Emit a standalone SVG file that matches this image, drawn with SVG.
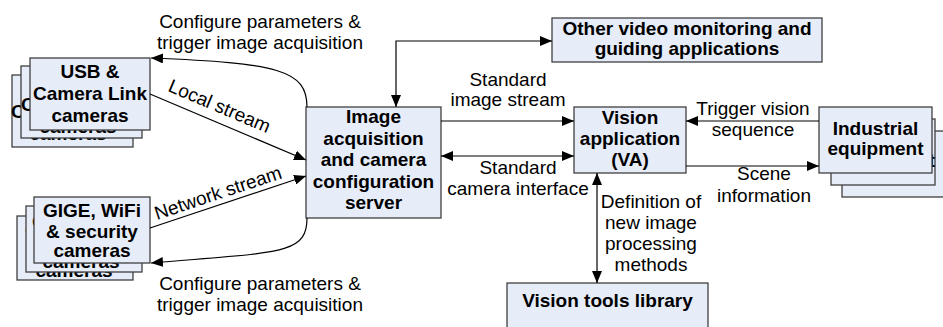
<svg xmlns="http://www.w3.org/2000/svg" width="943" height="327" viewBox="0 0 943 327">
<style>
text{font-family:"Liberation Sans",Arial,sans-serif;font-size:19px;fill:#000}
.b{font-weight:bold;text-anchor:middle}
.t{text-anchor:middle}
.box{fill:#e6ecf8;stroke:#404040;stroke-width:1.3}
.ln{fill:none;stroke:#000;stroke-width:1.2}
</style>
<defs>
<marker id="ah" markerUnits="userSpaceOnUse" markerWidth="13" markerHeight="10" refX="12" refY="5" orient="auto-start-reverse">
<path d="M0,0 L12,5 L0,10 z" fill="#000"/>
</marker>
</defs>

<g id="usb-cameras">
<rect class="box" x="12" y="75" width="121" height="72"/>
<text class="b" x="68" y="96">USB &amp;</text>
<text class="b" x="68" y="118">Camera Link</text>
<text class="b" x="68" y="140">cameras</text>
<rect class="box" x="21" y="66" width="121" height="72"/>
<text class="b" x="78" y="89">USB &amp;</text>
<text class="b" x="78" y="111">Camera Link</text>
<text class="b" x="78" y="133">cameras</text>
<rect class="box" x="30" y="58" width="120" height="72"/>
<text class="b" x="90" y="78">USB &amp;</text>
<text class="b" x="90" y="100">Camera Link</text>
<text class="b" x="90" y="122">cameras</text>
</g>

<g id="gige-cameras">
<rect class="box" x="17" y="216" width="116" height="64"/>
<text class="b" x="74" y="237">GIGE, WiFi</text>
<text class="b" x="74" y="258">&amp; security</text>
<text class="b" x="74" y="277">cameras</text>
<rect class="box" x="26" y="206" width="116" height="66"/>
<text class="b" x="81" y="228">GIGE, WiFi</text>
<text class="b" x="81" y="249">&amp; security</text>
<text class="b" x="81" y="268">cameras</text>
<rect class="box" x="34" y="197" width="116" height="66"/>
<text class="b" x="92" y="217">GIGE, WiFi</text>
<text class="b" x="92" y="238">&amp; security</text>
<text class="b" x="92" y="257">cameras</text>
</g>

<g id="server">
<rect class="box" x="306" y="107" width="135" height="111"/>
<text class="b" x="373.5" y="123">Image</text>
<text class="b" x="373.5" y="144.5">acquisition</text>
<text class="b" x="373.5" y="166">and camera</text>
<text class="b" x="373.5" y="187.5">configuration</text>
<text class="b" x="373.5" y="209">server</text>
</g>

<g id="other-apps">
<rect class="box" x="552" y="18" width="270" height="44"/>
<text class="b" x="687" y="35">Other video monitoring and</text>
<text class="b" x="687" y="55">guiding applications</text>
</g>

<g id="vision-app">
<rect class="box" x="574" y="107" width="112" height="66"/>
<text class="b" x="630" y="124">Vision</text>
<text class="b" x="630" y="145">application</text>
<text class="b" x="630" y="166">(VA)</text>
</g>

<g id="vision-tools">
<rect class="box" x="507" y="283" width="201" height="50"/>
<text class="b" x="607.5" y="307">Vision tools library</text>
</g>

<g id="industrial">
<rect class="box" x="842" y="131" width="104" height="66"/>
<rect class="box" x="831" y="119" width="104" height="66"/>
<text class="b" x="887" y="147">Industrial</text>
<text class="b" x="887" y="167">equipment</text>
<rect class="box" x="819" y="107" width="113" height="66"/>
<text class="b" x="875.5" y="135">Industrial</text>
<text class="b" x="875.5" y="155">equipment</text>
</g>

<g id="connectors">
<path class="ln" d="M307,107 C307,70 278,63 151,58" marker-end="url(#ah)"/>
<path class="ln" d="M307,218 C307,255 280,252 151,263" marker-end="url(#ah)"/>
<path class="ln" d="M150,94 L306,160" marker-end="url(#ah)"/>
<path class="ln" d="M150,228 L306,176" marker-end="url(#ah)"/>
<path class="ln" d="M396,107 L396,41 L552,41" marker-start="url(#ah)" marker-end="url(#ah)"/>
<path class="ln" d="M441,121 L574,121" marker-end="url(#ah)"/>
<path class="ln" d="M441,156 L574,156" marker-start="url(#ah)" marker-end="url(#ah)"/>
<path class="ln" d="M597,173 L597,283" marker-start="url(#ah)" marker-end="url(#ah)"/>
<path class="ln" d="M819,121 L686,121" marker-end="url(#ah)"/>
<path class="ln" d="M686,166 L819,166" marker-end="url(#ah)"/>
</g>

<g id="labels">
<text class="t" x="260" y="28">Configure parameters &amp;</text>
<text class="t" x="260" y="49">trigger image acquisition</text>
<text class="t" x="260" y="290">Configure parameters &amp;</text>
<text class="t" x="260" y="311">trigger image acquisition</text>
<text class="t" x="217" y="112" transform="rotate(23 217 112)">Local stream</text>
<text class="t" x="220" y="199" transform="rotate(-18.4 220 199)">Network stream</text>
<text class="t" x="508" y="86">Standard</text>
<text class="t" x="508" y="106">image stream</text>
<text class="t" x="518" y="174">Standard</text>
<text class="t" x="518" y="195">camera interface</text>
<text class="t" x="651" y="208">Definition of</text>
<text class="t" x="651" y="229">new image</text>
<text class="t" x="651" y="250">processing</text>
<text class="t" x="651" y="271">methods</text>
<text class="t" x="753" y="115">Trigger vision</text>
<text class="t" x="753" y="136">sequence</text>
<text class="t" x="764" y="180">Scene</text>
<text class="t" x="764" y="202">information</text>
</g>
</svg>
